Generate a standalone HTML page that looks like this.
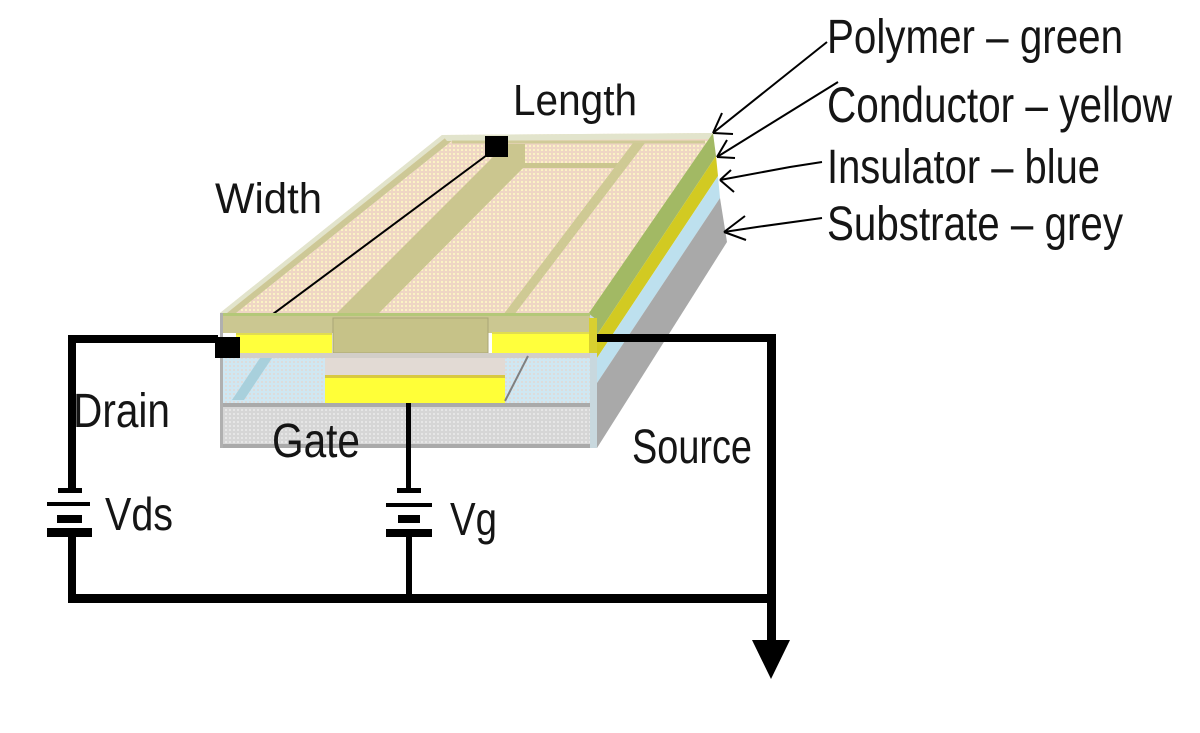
<!DOCTYPE html>
<html>
<head>
<meta charset="utf-8">
<style>
html,body{margin:0;padding:0;background:#fff;}
svg{display:block;}
text{font-family:"Liberation Sans",Arial,sans-serif;fill:#151515;}
</style>
</head>
<body>
<svg width="1200" height="733" viewBox="0 0 1200 733" xmlns="http://www.w3.org/2000/svg">
<defs>
<pattern id="peach" width="4" height="4" patternUnits="userSpaceOnUse">
<rect width="4" height="4" fill="#efd6c4"/>
<rect x="1" y="1" width="2" height="2" fill="#fbf3c4"/>
</pattern>
<pattern id="grey" width="4" height="4" patternUnits="userSpaceOnUse">
<rect width="4" height="4" fill="#d6d6d6"/>
<rect x="1" y="1" width="2" height="2" fill="#e6e6e6"/>
</pattern>
<pattern id="blue" width="4" height="4" patternUnits="userSpaceOnUse">
<rect width="4" height="4" fill="#cfe7f2"/>
<rect x="1" y="1" width="2" height="2" fill="#dcdcdc"/>
</pattern>
</defs>
<rect width="1200" height="733" fill="#fff"/>

<!-- top face -->
<polygon points="220,313 590,313 713,133 442,135" fill="url(#peach)"/>
<polygon points="220,313 227,313 449,135 442,135" fill="#e2e4cc"/>
<polygon points="227,313 236,313 458,136 449,135" fill="#cdc896"/>
<polygon points="442,135 713,133 709,139 447,141" fill="#e2e4cc"/>
<line x1="452" y1="142" x2="705" y2="142" stroke="#d0cb98" stroke-width="3"/>
<!-- middle band -->
<polygon points="333,317 375,317 525,166 525,144 505,144 490,160" fill="#cbc68f"/>
<rect x="523" y="163" width="102" height="5" fill="#cbc68f"/>
<!-- right thin band -->
<polygon points="633,143 645,143 514,315 503,315" fill="#cfca94"/>
<!-- diagonal measure line -->
<line x1="238" y1="340" x2="487" y2="155" stroke="#000" stroke-width="2"/>

<!-- side face -->
<polygon points="589,313 713,133 716,156 591,344" fill="#a2b964"/>
<polygon points="591,344 716,156 718,176 597,358" fill="#d2ca22"/>
<polygon points="597,358 718,176 720,198 597,383" fill="#bde0ee"/>
<polygon points="597,383 720,198 727,242 597,448" fill="#a9a9a9"/>
<polygon points="588,313 597,320 597,448 588,448" fill="#c8d8de"/>

<!-- front face -->
<rect x="220" y="313" width="370" height="20" fill="#cbc791"/>
<rect x="220" y="313" width="370" height="3" fill="#b4c878"/>
<rect x="333" y="318" width="155" height="35" fill="#c6c288" stroke="#aaa676" stroke-width="1"/>
<rect x="236" y="333" width="96" height="20" fill="#ffff3c"/>
<rect x="236" y="333" width="96" height="2" fill="#e0dc50"/>
<rect x="492" y="332" width="97" height="21" fill="#ffff3c"/>
<rect x="492" y="332" width="97" height="2" fill="#e0dc50"/>
<rect x="589" y="318" width="8" height="35" fill="#d8d030"/>
<rect x="220" y="353" width="370" height="5" fill="#d2cec8"/>
<rect x="220" y="358" width="105" height="45" fill="url(#blue)"/>
<polygon points="232,400 244,400 272,358 260,358" fill="#a8d0dc"/>
<rect x="325" y="358" width="180" height="17" fill="#e2dad4"/>
<rect x="325" y="375" width="180" height="28" fill="#ffff38"/>
<rect x="325" y="375" width="180" height="3" fill="#d8c840"/>
<rect x="505" y="358" width="85" height="45" fill="url(#blue)"/>
<line x1="505" y1="401" x2="528" y2="356" stroke="#808080" stroke-width="2"/>
<rect x="220" y="403" width="370" height="45" fill="url(#grey)"/>
<rect x="220" y="403" width="370" height="4" fill="#aaaaaa"/>
<rect x="220" y="444" width="370" height="4" fill="#aaaaaa"/>
<rect x="220" y="313" width="3" height="135" fill="#b0b0b0"/>

<!-- squares -->
<rect x="485" y="136" width="23" height="21" fill="#000"/>
<rect x="215" y="337" width="25" height="21" fill="#000"/>

<!-- wires -->
<g fill="#000">
<rect x="68" y="335" width="8" height="155"/>
<rect x="68" y="532" width="8" height="71"/>
<rect x="68" y="335" width="150" height="8"/>
<rect x="68" y="594" width="708" height="9"/>
<rect x="767" y="334" width="9" height="310"/>
<rect x="597" y="334" width="179" height="8"/>
<rect x="406" y="403" width="5" height="87"/>
<rect x="406" y="532" width="6" height="66"/>
<!-- Vds battery -->
<rect x="58" y="488" width="24" height="5"/>
<rect x="47" y="502" width="43" height="4"/>
<rect x="57" y="515" width="25" height="8"/>
<rect x="47" y="528" width="45" height="9"/>
<!-- Vg battery -->
<rect x="397" y="488" width="24" height="5"/>
<rect x="386" y="503" width="46" height="4"/>
<rect x="398" y="515" width="22" height="8"/>
<rect x="386" y="529" width="46" height="8"/>
<!-- ground arrow -->
<polygon points="752,640 790,640 771,679"/>
</g>

<!-- leaders -->
<g stroke="#000" stroke-width="2" fill="none">
<line x1="713" y1="133" x2="827" y2="42"/>
<line x1="713" y1="133" x2="722" y2="113"/>
<line x1="713" y1="133" x2="733" y2="134"/>
<line x1="717" y1="157" x2="838" y2="82"/>
<line x1="717" y1="157" x2="727" y2="140"/>
<line x1="717" y1="157" x2="735" y2="158"/>
<polyline points="720,180 790,167 822,162"/>
<line x1="720" y1="180" x2="731" y2="170"/>
<line x1="720" y1="180" x2="734" y2="192"/>
<polyline points="724,232 757,227 822,218"/>
<line x1="724" y1="232" x2="745" y2="216"/>
<line x1="724" y1="232" x2="746" y2="240"/>
</g>

<!-- labels -->
<text x="827" y="53" font-size="48" textLength="296" lengthAdjust="spacingAndGlyphs">Polymer – green</text>
<text x="827" y="122" font-size="50" textLength="345" lengthAdjust="spacingAndGlyphs">Conductor – yellow</text>
<text x="827" y="183" font-size="48" textLength="273" lengthAdjust="spacingAndGlyphs">Insulator – blue</text>
<text x="827" y="240" font-size="48" textLength="296" lengthAdjust="spacingAndGlyphs">Substrate – grey</text>
<text x="513" y="115" font-size="44" textLength="124" lengthAdjust="spacingAndGlyphs">Length</text>
<text x="215" y="213" font-size="43" textLength="107" lengthAdjust="spacingAndGlyphs">Width</text>
<text x="73" y="427" font-size="48" textLength="97" lengthAdjust="spacingAndGlyphs">Drain</text>
<text x="272" y="457" font-size="48" textLength="88" lengthAdjust="spacingAndGlyphs">Gate</text>
<text x="105" y="530" font-size="46" textLength="68" lengthAdjust="spacingAndGlyphs">Vds</text>
<text x="450" y="535" font-size="46" textLength="47" lengthAdjust="spacingAndGlyphs">Vg</text>
<text x="632" y="463" font-size="48" textLength="120" lengthAdjust="spacingAndGlyphs">Source</text>
</svg>
</body>
</html>
